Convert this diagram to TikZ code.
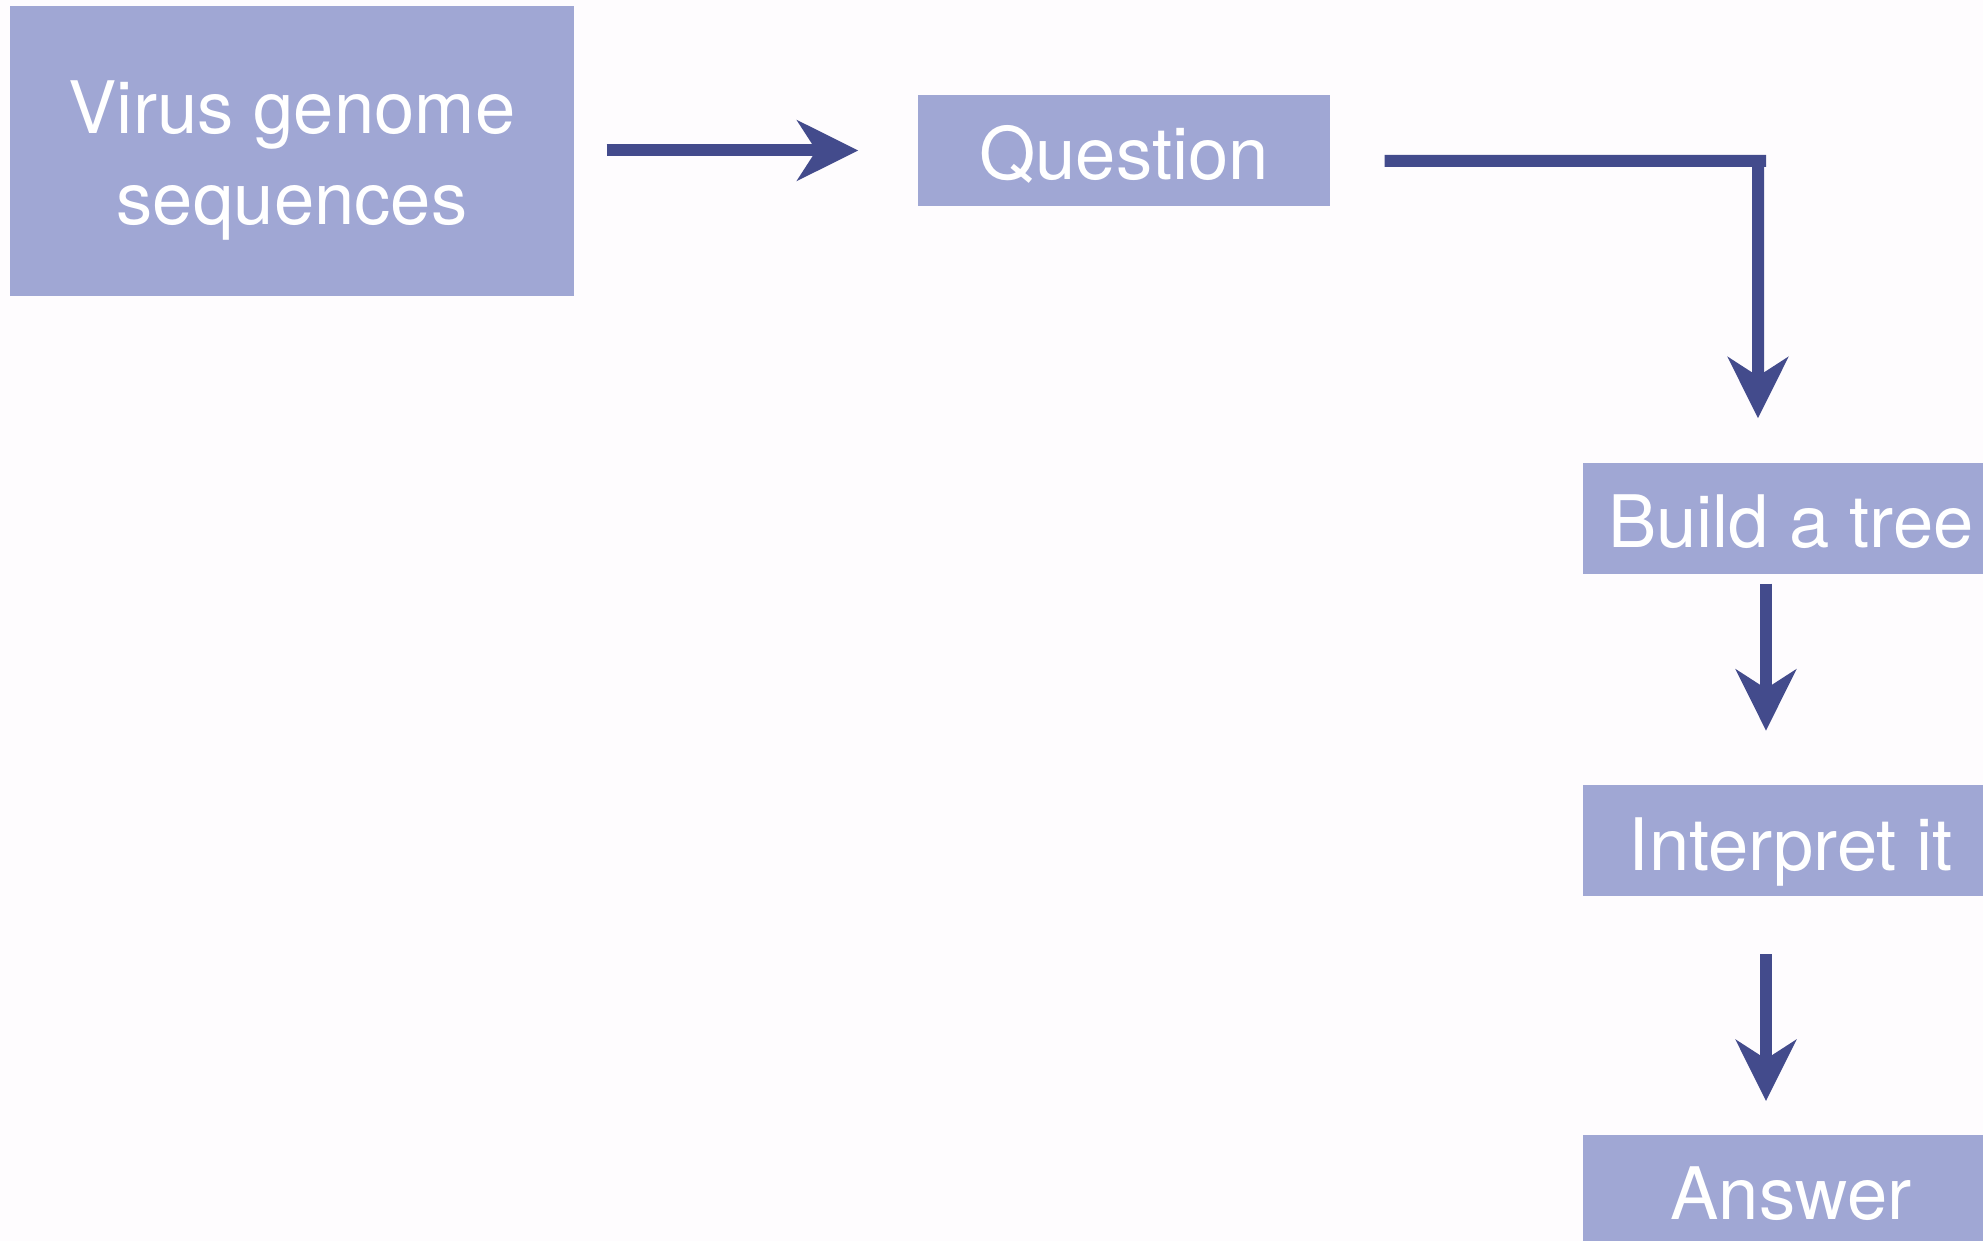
\documentclass[tikz,border=0pt]{standalone}
\usepackage{fontspec}
\setmainfont{TeX Gyre Heros}
\usetikzlibrary{arrows.meta}
\usetikzlibrary{positioning}

\definecolor{boxblue}{RGB}{160,167,212}
\definecolor{arrowblue}{RGB}{67,75,140}
\definecolor{paper}{RGB}{254,252,254}

\begin{document}
\begin{tikzpicture}[x=0.1mm, y=-0.1mm,
    stepbox/.style={rectangle, fill=boxblue, text=white, inner sep=0pt,
        font=\fontsize{20.6}{25.7}\selectfont, align=center},
    sidebox/.style={stepbox, minimum width=41.6mm, minimum height=11.1mm,
        text height=17pt, text depth=0.4pt},
    flow/.style={draw=arrowblue, line width=1.2mm},
    flowarrow/.style={flow, -{Stealth[length=6.1mm, width=6mm, inset=1.9mm]}}]
%% page and background
\fill[paper] (0,0) rectangle (1983,1241);
\useasboundingbox (0,0) rectangle (1983,1241);

%% the boxes
\node[stepbox, minimum width=56.4mm, minimum height=29mm] (genomes) at (292,151)
    {\rule{0pt}{20.4pt}Virus genome\\sequences};
\node[sidebox, minimum width=41.2mm] (question) at (1124,150.5) {Question};
\node[sidebox] (build) at (1791,518.5) {Build a tree};
\node[sidebox, below=21mm of build] (interpret) {Interpret it};
\node[sidebox, below=23.7mm of interpret] (answer) {Answer};

%% the connectors
\draw[flowarrow, shorten <=3.2mm, shorten >=5.9mm] (genomes.east |- question.west) -- (question.west);
% elbow from question down to the tree
\coordinate (bend) at (1766,161);
\draw[flow] ([shift={(54,10.5)}]question.east) -- (bend);
\draw[flowarrow, shorten >=4.4mm] ([xshift=-0.8mm]bend) -- ([xshift=-3.3mm]build.north);
\draw[flowarrow, shorten <=0.9mm, shorten >=5.4mm] ([xshift=-2.5mm]build.south) -- ([xshift=-2.5mm]interpret.north);
\draw[flowarrow, shorten <=5.7mm, shorten >=3.3mm] ([xshift=-2.5mm]interpret.south) -- ([xshift=-2.5mm]answer.north);
\end{tikzpicture}
\end{document}
